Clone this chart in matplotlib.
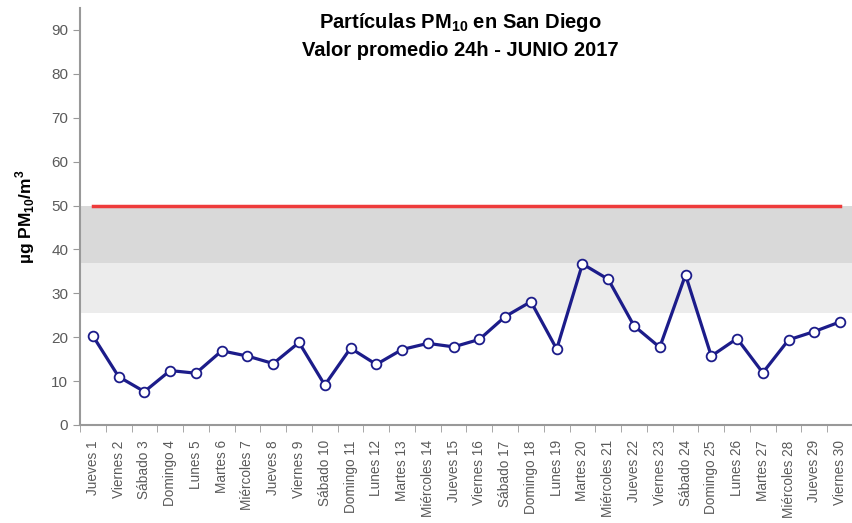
import matplotlib.pyplot as plt
import numpy as np

plt.rcParams['font.family'] = ['Liberation Sans', 'DejaVu Sans']
plt.rcParams['mathtext.fontset'] = 'custom'
plt.rcParams['mathtext.rm'] = 'Liberation Sans'
plt.rcParams['mathtext.bf'] = 'Liberation Sans:bold'

# datos PM10 junio 2017
dias = ["Jueves 1", "Viernes 2", "Sábado 3", "Domingo 4", "Lunes 5", "Martes 6",
        "Miércoles 7", "Jueves 8", "Viernes 9", "Sábado 10", "Domingo 11", "Lunes 12",
        "Martes 13", "Miércoles 14", "Jueves 15", "Viernes 16", "Sábado 17", "Domingo 18",
        "Lunes 19", "Martes 20", "Miércoles 21", "Jueves 22", "Viernes 23", "Sábado 24",
        "Domingo 25", "Lunes 26", "Martes 27", "Miércoles 28", "Jueves 29", "Viernes 30"]
pm10 = [20.3, 11.0, 7.6, 12.4, 11.8, 16.9, 15.7, 14.0, 18.8, 9.1,
        17.5, 13.8, 17.2, 18.6, 17.8, 19.5, 24.7, 28.1, 17.3, 36.7,
        33.2, 22.6, 17.7, 34.2, 15.7, 19.7, 11.9, 19.4, 21.3, 23.5]
norma = 50
banda_oscura = (37, 50)
banda_clara = (25.5, 37)

fig = plt.figure(figsize=(8.53, 5.23), dpi=100)
ax = fig.add_axes([80 / 853, 98 / 523, 1 - 80 / 853, 417 / 523])

x = np.arange(len(dias))
ax.axhspan(*banda_oscura, color='#d9d9d9', lw=0, zorder=0)
ax.axhspan(*banda_clara, color='#ececec', lw=0, zorder=0)
ax.plot([x[0], x[-1]], [norma, norma], color='#ee3b3b', lw=2.5, zorder=2)
ax.plot(x, pm10, color='#1c1c8a', lw=2.3, marker='o', markersize=7,
        markerfacecolor='white', markeredgecolor='#1c1c8a', markeredgewidth=1.3, zorder=3)

ax.set_xlim(-0.5, 29.25)
ax.set_ylim(0, 95)
ax.set_yticks(range(0, 100, 10))
ax.set_xticks(x)
ax.set_xticklabels(dias, rotation=90, fontsize=9.8, color='#5a5a5a')
ax.set_xticks(np.arange(-0.5, 30, 1), minor=True)
ax.tick_params(axis='x', which='major', length=0, pad=11)
ax.tick_params(axis='x', which='minor', length=5, color='#999999', direction='out')
ax.tick_params(axis='y', labelsize=11, labelcolor='#5a5a5a', color='#999999', length=5)

for s in ['top', 'right']:
    ax.spines[s].set_visible(False)
for s in ['left', 'bottom']:
    ax.spines[s].set_color('#999999')
    ax.spines[s].set_linewidth(1.5)

ax.set_ylabel(r'µg PM$_{\mathbf{10}}$/m$^{\mathbf{3}}$', fontsize=12.5, fontweight='bold', labelpad=10)

fig.text(460 / 853, 1 - 22 / 523, r'Partículas PM$_{\mathbf{10}}$ en San Diego',
         ha='center', va='center', fontsize=14.5, fontweight='bold')
fig.text(460 / 853, 1 - 50 / 523, 'Valor promedio 24h - JUNIO 2017',
         ha='center', va='center', fontsize=14.5, fontweight='bold')

fig.savefig('out.png', dpi=100)
